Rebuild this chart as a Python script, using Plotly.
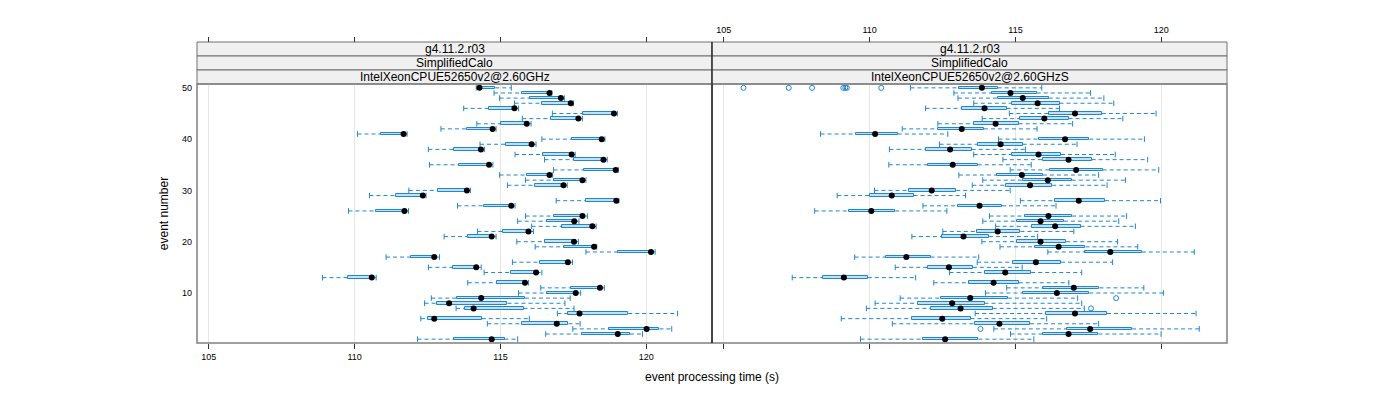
import plotly.graph_objects as go

events = list(range(1, 51))

# Panel 1: IntelXeonCPUE52650v2@2.60GHz  (min, q1, median, q3, max) for events 1..50
p1_min = [112.16,116.55,117.48,114.55,112.27,116.95,113.48,112.40,112.63,115.62,
          116.38,113.88,108.90,114.44,112.53,115.41,111.08,117.93,116.19,115.56,
          113.07,114.21,116.07,115.59,115.86,109.79,113.53,116.91,110.51,111.86,
          115.24,115.86,114.97,116.82,112.57,116.51,115.50,112.53,114.30,116.42,
          110.10,112.96,114.19,115.75,116.78,113.74,115.48,114.97,114.78,114.17]
p1_q1 = [113.42,117.79,118.73,115.75,112.50,117.33,113.79,112.84,113.50,116.61,
         117.41,114.87,109.76,115.35,113.36,116.36,111.93,119.04,117.19,116.53,
         113.90,115.08,117.12,116.59,116.84,110.74,114.45,117.93,111.43,112.85,
         116.19,116.85,115.90,117.87,113.58,117.52,116.47,113.42,115.19,117.44,
         110.89,113.85,115.02,116.72,117.84,114.62,116.44,116.02,115.73,114.25]
p1_med = [114.70,119.02,120.01,116.93,112.73,117.71,114.08,113.24,114.34,117.58,
          118.41,115.84,110.59,116.22,114.17,117.31,112.73,120.16,118.21,117.52,
          114.70,115.96,118.15,117.53,117.81,111.71,115.37,118.97,112.34,113.85,
          117.16,117.81,116.68,118.95,114.61,118.53,117.44,114.33,116.07,118.47,
          111.68,114.73,115.90,117.67,118.89,115.48,117.41,117.07,116.68,114.28]
p1_q3 = [115.14,119.44,120.45,117.33,114.36,119.38,115.79,115.24,115.84,117.60,
         118.43,115.86,110.61,116.24,114.19,117.33,112.75,120.18,118.23,117.54,
         114.72,115.98,118.17,117.55,117.83,111.73,115.39,118.99,112.36,113.87,
         117.18,117.83,116.70,118.97,114.63,118.55,117.46,114.35,116.09,118.49,
         111.70,114.75,115.92,117.69,118.91,115.50,117.43,117.10,116.70,114.82]
p1_max = [115.59,119.87,120.87,117.73,115.99,121.07,117.52,117.21,117.39,117.75,
          118.56,115.96,110.74,116.42,114.34,117.47,112.91,120.30,118.30,117.67,
          114.85,116.13,118.28,117.69,117.98,111.85,115.50,119.06,112.45,113.97,
          117.29,117.93,116.79,119.04,114.74,118.66,117.56,114.45,116.22,118.58,
          111.80,114.85,116.05,117.81,119.01,115.62,117.50,117.19,116.76,115.37]

# Panel 2: IntelXeonCPUE52650v2@2.60GHzS
p2_min = [109.69,114.83,114.26,110.78,109.03,113.62,109.89,110.19,111.05,113.97,
          114.70,112.20,107.35,112.74,110.88,113.69,109.49,116.11,114.47,113.85,
          111.45,112.51,114.32,113.88,114.11,108.12,111.83,115.17,108.89,110.17,
          113.52,113.88,113.06,114.82,110.66,114.57,113.57,110.68,112.40,114.42,
          108.32,111.12,112.34,113.86,114.79,111.92,113.57,113.03,112.89,111.40]
p2_q1 = [111.83,115.94,116.77,113.62,111.45,116.05,112.09,111.66,112.45,115.25,
         115.96,113.42,108.40,113.94,112.00,114.91,110.55,117.40,115.68,115.05,
         112.49,113.68,115.56,115.06,115.33,109.29,113.03,116.37,110.00,111.35,
         114.66,115.25,114.36,116.20,112.00,115.94,114.89,111.94,113.71,115.79,
         109.52,112.34,113.57,115.16,116.16,113.16,114.87,114.39,114.19,113.08]
p2_med = [112.59,116.82,117.56,114.45,112.49,117.04,113.12,112.83,113.45,116.42,
          117.00,114.25,109.12,114.65,112.72,115.70,111.26,118.25,116.48,115.86,
          113.22,114.39,116.36,115.86,116.13,110.06,113.77,117.17,110.76,112.13,
          115.50,116.11,115.22,117.08,112.85,116.82,115.79,112.76,114.49,116.70,
          110.19,113.16,114.32,115.99,117.04,113.94,115.76,115.25,114.83,113.85]
p2_q3 = [113.73,117.84,119.00,115.50,113.46,118.14,114.22,113.94,114.74,117.53,
         117.88,115.11,109.94,115.54,113.54,116.56,112.09,119.33,117.40,116.74,
         114.09,115.17,117.23,116.66,116.94,110.88,114.54,118.07,111.51,112.97,
         116.26,116.93,115.94,117.99,113.71,117.61,116.56,113.50,115.25,117.53,
         110.97,113.92,115.11,116.82,117.96,114.70,116.51,116.14,115.73,114.39]
p2_max = [115.63,119.99,121.30,117.85,116.07,121.19,117.36,117.27,117.13,120.07,
          119.40,116.83,111.58,117.27,115.23,118.33,113.74,121.13,119.19,118.50,
          115.76,117.00,119.11,118.54,118.81,112.65,116.39,119.97,113.29,114.82,
          118.14,118.77,117.85,119.91,115.54,119.53,118.42,115.34,117.11,119.42,
          112.68,115.74,116.96,118.68,119.82,116.51,118.37,118.03,117.57,115.90]
p2_out_x = [113.80, 117.59, 118.45, 105.68, 107.23, 108.03, 109.10, 109.17, 109.22, 110.40]
p2_out_y = [3, 7, 9, 50, 50, 50, 50, 50, 50, 50]

strip_rows = ["g4.11.2.r03", "SimplifiedCalo"]
panel_names = ["IntelXeonCPUE52650v2@2.60GHz", "IntelXeonCPUE52650v2@2.60GHzS"]
xticks = [105, 110, 115, 120]
yticks = [10, 20, 30, 40, 50]
XR = [104.6, 122.25]
YR = [0.25, 50.75]

BLUE = "#1f86cf"
FILL = "#c4e1f4"
FONT = "Liberation Sans, Arial, sans-serif"

fig = go.Figure()

def add_panel(mins, q1, med, q3, maxs, xa, ya):
    # box
    fig.add_trace(go.Bar(
        y=events, x=[b - a for a, b in zip(q1, q3)], base=q1, orientation="h",
        width=0.5, marker=dict(color=FILL, line=dict(color=BLUE, width=1)),
        xaxis=xa, yaxis=ya, showlegend=False, hoverinfo="skip"))
    # whiskers
    wx, wy = [], []
    for e, a, b, c, d in zip(events, mins, q1, q3, maxs):
        wx += [a, b, None, c, d, None]
        wy += [e, e, None, e, e, None]
    fig.add_trace(go.Scatter(
        x=wx, y=wy, mode="lines", line=dict(color=BLUE, width=1, dash="4px,3px"),
        xaxis=xa, yaxis=ya, showlegend=False, hoverinfo="skip"))
    # caps
    fig.add_trace(go.Scatter(
        x=list(mins) + list(maxs), y=events + events, mode="markers",
        marker=dict(symbol="line-ns", size=4, line=dict(color=BLUE, width=1)),
        xaxis=xa, yaxis=ya, showlegend=False, hoverinfo="skip"))
    # medians
    fig.add_trace(go.Scatter(
        x=med, y=events, mode="markers",
        marker=dict(symbol="circle", size=6, color="black"),
        xaxis=xa, yaxis=ya, showlegend=False, hoverinfo="skip"))

add_panel(p1_min, p1_q1, p1_med, p1_q3, p1_max, "x", "y")
add_panel(p2_min, p2_q1, p2_med, p2_q3, p2_max, "x2", "y2")
fig.add_trace(go.Scatter(
    x=p2_out_x, y=p2_out_y, mode="markers",
    marker=dict(symbol="circle-open", size=5, color=BLUE, line=dict(width=1)),
    xaxis="x2", yaxis="y2", showlegend=False, hoverinfo="skip"))

# helper traces so the top axes get drawn
fig.add_trace(go.Scatter(x=[112], y=[25], mode="markers", marker=dict(opacity=0),
                         xaxis="x3", yaxis="y", showlegend=False, hoverinfo="skip"))
fig.add_trace(go.Scatter(x=[112], y=[25], mode="markers", marker=dict(opacity=0),
                         xaxis="x4", yaxis="y2", showlegend=False, hoverinfo="skip"))

# page body has an 8px margin; figure is sized so that the plot lands where it should
OFF = 8
W, H = 1400 - OFF, 400 - OFF
ML, MT = 197 - OFF, 42 - OFF
MR = W - (1227 - OFF)
MB = H - (343 - OFF)
H_PLOT = 343 - 42
YTOP = (343 - 84) / H_PLOT
SH = (1 - YTOP) / 3

tickfont = dict(family=FONT, size=9, color="black")
common_x = dict(range=XR, tickvals=xticks, ticks="outside", ticklen=5, tickcolor="#333",
                zeroline=False, showline=False, tickfont=tickfont, fixedrange=True)

fig.update_layout(
    width=W, height=H, autosize=False,
    margin=dict(l=ML, r=MR, t=MT, b=MB),
    paper_bgcolor="white", plot_bgcolor="white",
    barmode="overlay", bargap=0,
    font=dict(family=FONT, color="black"),
    xaxis=dict(domain=[0, 0.5], anchor="y", showgrid=True, gridcolor="#e6e6e6",
               gridwidth=1, showticklabels=True, **common_x),
    xaxis2=dict(domain=[0.5, 1], anchor="y2", showgrid=True, gridcolor="#e6e6e6",
                gridwidth=1, showticklabels=False, **common_x),
    xaxis3=dict(overlaying="x", side="top", anchor="free", position=1,
                showgrid=False, showticklabels=False, **common_x),
    xaxis4=dict(overlaying="x2", side="top", anchor="free", position=1,
                showgrid=False, showticklabels=True, **common_x),
    yaxis=dict(domain=[0, YTOP], anchor="x", range=YR, tickvals=yticks, ticks="",
               showgrid=False, zeroline=False, showline=False, tickfont=tickfont,
               ticklabelstandoff=4, fixedrange=True,
               title=dict(text="event number", font=dict(family=FONT, size=12), standoff=10)),
    yaxis2=dict(domain=[0, YTOP], anchor="x2", range=YR, tickvals=yticks, ticks="",
                showgrid=False, zeroline=False, showline=False, showticklabels=False,
                fixedrange=True),
)

shapes = []
annotations = []
for i, name in enumerate(panel_names):
    x0, x1 = 0.5 * i, 0.5 * (i + 1)
    labels = strip_rows + [name]
    for j, lab in enumerate(labels):
        y1 = 1 - j * SH
        y0 = y1 - SH
        shapes.append(dict(type="rect", xref="paper", yref="paper", x0=x0, x1=x1,
                           y0=y0, y1=y1, fillcolor="#f0f0f0",
                           line=dict(color="#707070", width=1), layer="below"))
        annotations.append(dict(xref="paper", yref="paper", x=(x0 + x1) / 2,
                                y=(y0 + y1) / 2, text=lab, showarrow=False,
                                font=dict(family=FONT, size=12, color="black"),
                                xanchor="center", yanchor="middle"))
    shapes.append(dict(type="rect", xref="paper", yref="paper", x0=x0, x1=x1,
                       y0=0, y1=YTOP, line=dict(color="#808080", width=1.5),
                       fillcolor="rgba(0,0,0,0)", layer="above"))
shapes.append(dict(type="line", xref="paper", yref="paper", x0=0.5, x1=0.5,
                   y0=0, y1=1, line=dict(color="black", width=1)))

annotations.append(dict(xref="paper", yref="paper", x=0.5, y=0, yshift=-34,
                        text="event processing time (s)", showarrow=False,
                        font=dict(family=FONT, size=12, color="black"),
                        xanchor="center", yanchor="middle"))

fig.update_layout(shapes=shapes, annotations=annotations)
fig.write_html("out.html")
